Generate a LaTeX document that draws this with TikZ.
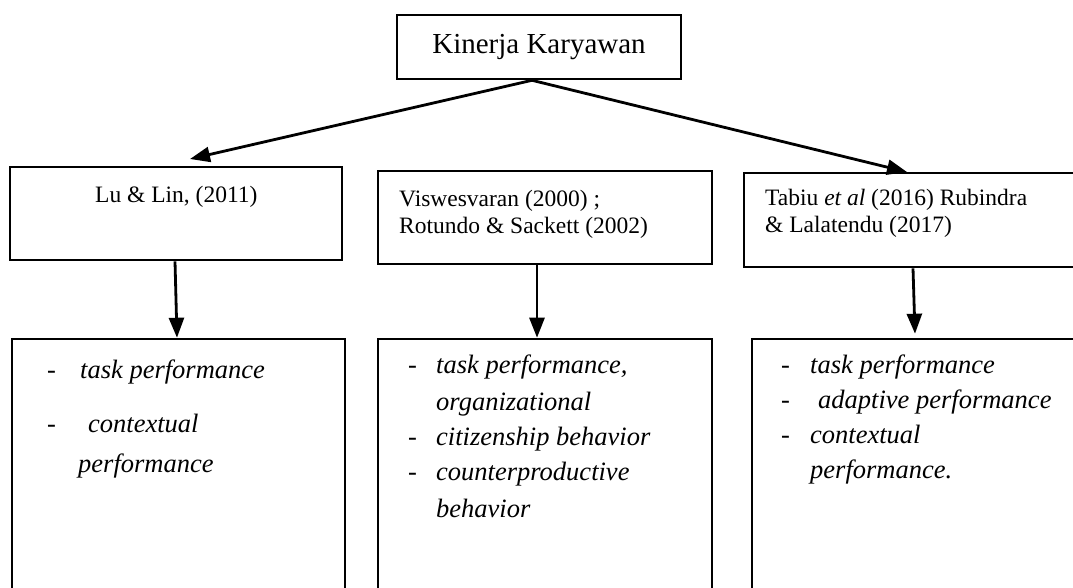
\documentclass[tikz,border=0pt]{standalone}
\usepackage{fontspec}
\setmainfont{Liberation Serif}
\usetikzlibrary{arrows.meta}
\begin{document}
\begin{tikzpicture}[x=1pt,y=-1pt,
 box/.style={draw,line width=2.6pt,inner sep=0pt,rectangle},
 arr/.style={line width=2.8pt,-{Triangle[length=20pt,width=15pt]}},
 ref/.style={inner sep=0pt,anchor=base west,font=\fontsize{23.5}{27}\selectfont},
 itm/.style={inner sep=0pt,anchor=base west,font=\fontsize{26.5}{30}\selectfont\itshape},
 dsh/.style={inner sep=0pt,anchor=base west,font=\fontsize{26.5}{30}\selectfont}]
\useasboundingbox (0,0) rectangle (1073,587);
% boxes
\node[box,minimum width=284pt,minimum height=64pt,font=\fontsize{29}{34}\selectfont] (top) at (539,47) {Kinerja Karyawan};
\node[box,minimum width=332pt,minimum height=93pt] (box1) at (176,213.5) {};
\node[box,minimum width=334pt,minimum height=93pt] (box2) at (545,217.5) {};
\node[box,minimum width=346pt,minimum height=94pt] (box3) at (917,220) {};
\node[box,minimum width=333pt,minimum height=281pt] (bot1) at (178.5,479.5) {};
\node[box,minimum width=334pt,minimum height=281pt] (bot2) at (545,479.5) {};
\node[box,minimum width=338pt,minimum height=281pt] (bot3) at (921,479.5) {};
% reference texts
\node[ref] (r1) at (95,202) {Lu \& Lin, (2011)};
\node[ref] (r2a) at (399,206) {Viswesvaran (2000) ;};
\node[ref] (r2b) at (399,233) {Rotundo \& Sackett (2002)};
\node[ref] (r3a) at (765,205) {Tabiu \textit{et al} (2016) Rubindra};
\node[ref] (r3b) at (765,232) {\& Lalatendu (2017)};
% list 1
\node[dsh] (d1a) at (47,378) {-};
\node[itm] (i1a) at (80,378) {task performance};
\node[dsh] (d1b) at (47,432) {-};
\node[itm] (i1b) at (88,432) {contextual};
\node[itm] (i1c) at (78,472) {performance};
% list 2
\node[dsh] (d2a) at (408,373) {-};
\node[itm] (i2a) at (436,373) {task performance,};
\node[itm] (i2b) at (436,410) {organizational};
\node[dsh] (d2b) at (408,445) {-};
\node[itm] (i2c) at (436,445) {citizenship behavior};
\node[dsh] (d2c) at (408,480) {-};
\node[itm] (i2d) at (436,480) {counterproductive};
\node[itm] (i2e) at (436,517) {behavior};
% list 3
\node[dsh] (d3a) at (781,373) {-};
\node[itm] (i3a) at (810,373) {task performance};
\node[dsh] (d3b) at (781,408) {-};
\node[itm] (i3b) at (818,408) {adaptive performance};
\node[dsh] (d3c) at (781,443) {-};
\node[itm] (i3c) at (810,443) {contextual};
\node[itm] (i3d) at (810,478) {performance.};
% connectors
\coordinate (topout) at ([xshift=-7pt]top.south);
\coordinate (tip1) at (190,159);
\coordinate (tip3) at (907,172);
\draw[arr] (topout) -- (tip1);
\draw[arr] (topout) -- (tip3);
\draw[arr] ([xshift=-1pt]box1.south) -- ([xshift=-1.5pt]bot1.north);
\draw[arr] ([xshift=-8pt]box2.south) -- ([xshift=-8pt]bot2.north);
\draw[arr] ([xshift=-4pt]box3.south) -- ([xshift=-6pt,yshift=4pt]bot3.north);
\end{tikzpicture}
\end{document}
